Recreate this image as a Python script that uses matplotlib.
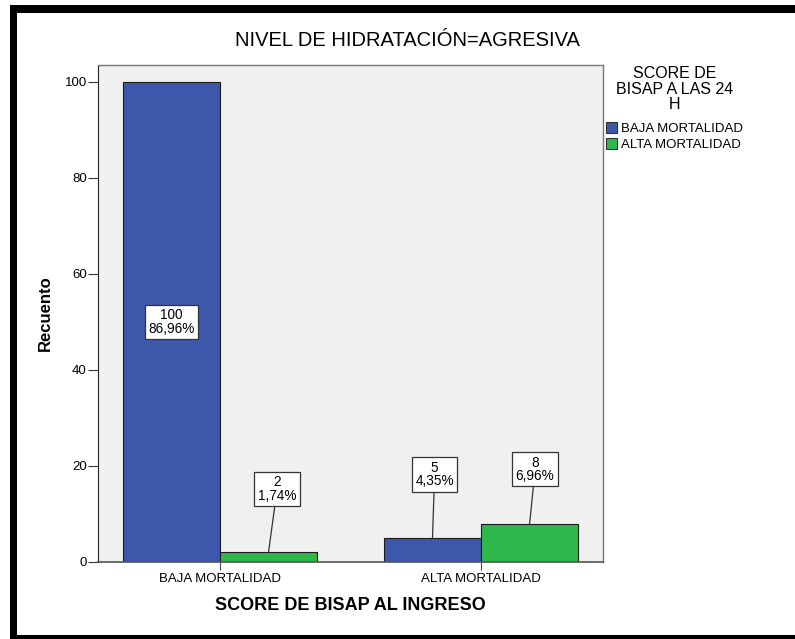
import matplotlib
matplotlib.use("Agg")
import matplotlib.pyplot as plt
from matplotlib.patches import Rectangle, Patch
import numpy as np

plt.rcParams['font.family'] = ['Liberation Sans', 'DejaVu Sans']

categories = ["BAJA MORTALIDAD", "ALTA MORTALIDAD"]
series_names = ["BAJA MORTALIDAD", "ALTA MORTALIDAD"]
baja_24h = [100, 5]
alta_24h = [2, 8]
baja_pct = ["86,96%", "4,35%"]
alta_pct = ["1,74%", "6,96%"]
yticks = [0, 20, 40, 60, 80, 100]

title = "NIVEL DE HIDRATACIÓN=AGRESIVA"
xlabel = "SCORE DE BISAP AL INGRESO"
ylabel = "Recuento"
legend_title = "SCORE DE\nBISAP A LAS 24\nH"

blue = "#3D57AB"
green = "#2EB84C"

W, H = 795, 639
fig = plt.figure(figsize=(W / 100, H / 100), dpi=100)
fig.patch.set_facecolor("white")

def fx(px):
    return px / W

def fy(py):
    return 1 - py / H

# outer black frame
frame_kw = dict(transform=fig.transFigure, color="black", lw=0, zorder=10)
fig.patches.append(Rectangle((fx(10), 0), 7 / W, (H - 5) / H, **frame_kw))
fig.patches.append(Rectangle((fx(10), fy(13)), 1 - 10 / W, 8 / H, **frame_kw))
fig.patches.append(Rectangle((fx(10), 0), 1 - 10 / W, 4 / H, **frame_kw))

left, right, top, bottom = 98, 603, 65, 562
ax = fig.add_axes([fx(left), fy(bottom), (right - left) / W, (bottom - top) / H])
ax.set_facecolor("#F0F0F0")

x = np.arange(len(categories))
bw = 0.372
ax.bar(x - bw / 2, baja_24h, width=bw, color=blue, edgecolor="#1a1a1a", linewidth=0.8, zorder=2)
ax.bar(x + bw / 2, alta_24h, width=bw, color=green, edgecolor="#1a1a1a", linewidth=0.8, zorder=2)

ax.set_xlim(-0.467, 1.467)
ax.set_ylim(0, 103.5)
ax.set_yticks(yticks)
ax.set_xticks(x)
ax.set_xticklabels(categories, fontsize=9.5)
ax.tick_params(axis="y", labelsize=9.5, length=7, width=0.8, pad=1, colors="#333333")
ax.tick_params(axis="x", length=6, width=0.8, pad=2, colors="#444444")
for lab in ax.get_xticklabels() + ax.get_yticklabels():
    lab.set_color("black")

for s in ["top", "right"]:
    ax.spines[s].set_color("#777777")
    ax.spines[s].set_linewidth(1.0)
ax.spines["left"].set_color("#222222")
ax.spines["bottom"].set_color("#555555")
ax.spines["bottom"].set_linewidth(1.2)

# value labels
box = dict(boxstyle="square,pad=0.25", fc="white", ec="#333333", lw=0.9)
labels = [
    (x[0] - bw / 2, baja_24h[0], baja_pct[0], None),
    (x[0] + bw / 2, alta_24h[0], alta_pct[0], (0.033, 13.2)),
    (x[1] - bw / 2, baja_24h[1], baja_pct[1], (0.008, 13.2)),
    (x[1] + bw / 2, alta_24h[1], alta_pct[1], (0.021, 11.3)),
]
for xc, v, pct, off in labels:
    txt = f"{v}\n{pct}"
    if off is None:
        ax.text(xc, v * 0.5, txt, ha="center", va="center", fontsize=9.8,
                linespacing=0.95, bbox=box, zorder=5)
    else:
        ax.annotate(txt, xy=(xc, v), xytext=(xc + off[0], v + off[1]),
                    ha="center", va="center", fontsize=9.8, linespacing=0.95,
                    bbox=box, zorder=5,
                    arrowprops=dict(arrowstyle="-", color="#333333", lw=0.9,
                                    shrinkA=0, shrinkB=0))

fig.text(fx(350), fy(606), xlabel, ha="center", va="center", fontsize=13, fontweight="bold")
fig.text(fx(45), fy(313), ylabel, ha="center", va="center", rotation=90,
         fontsize=12, fontweight="bold")
fig.text(fx(407), fy(41), title, ha="center", va="center", fontsize=14.5)

# legend
fig.text(fx(675), fy(89), legend_title, ha="center", va="center",
         fontsize=11.5, linespacing=1.05)
handles = [Patch(facecolor=blue, edgecolor="#333333", lw=0.8),
           Patch(facecolor=green, edgecolor="#333333", lw=0.8)]
fig.legend(handles, series_names, loc="upper left",
           bbox_to_anchor=(fx(606), fy(122)), frameon=False,
           fontsize=9.5, handlelength=0.85, handleheight=0.85,
           handletextpad=0.3, labelspacing=0.25, borderpad=0, borderaxespad=0)

fig.savefig("out.png", dpi=100)
